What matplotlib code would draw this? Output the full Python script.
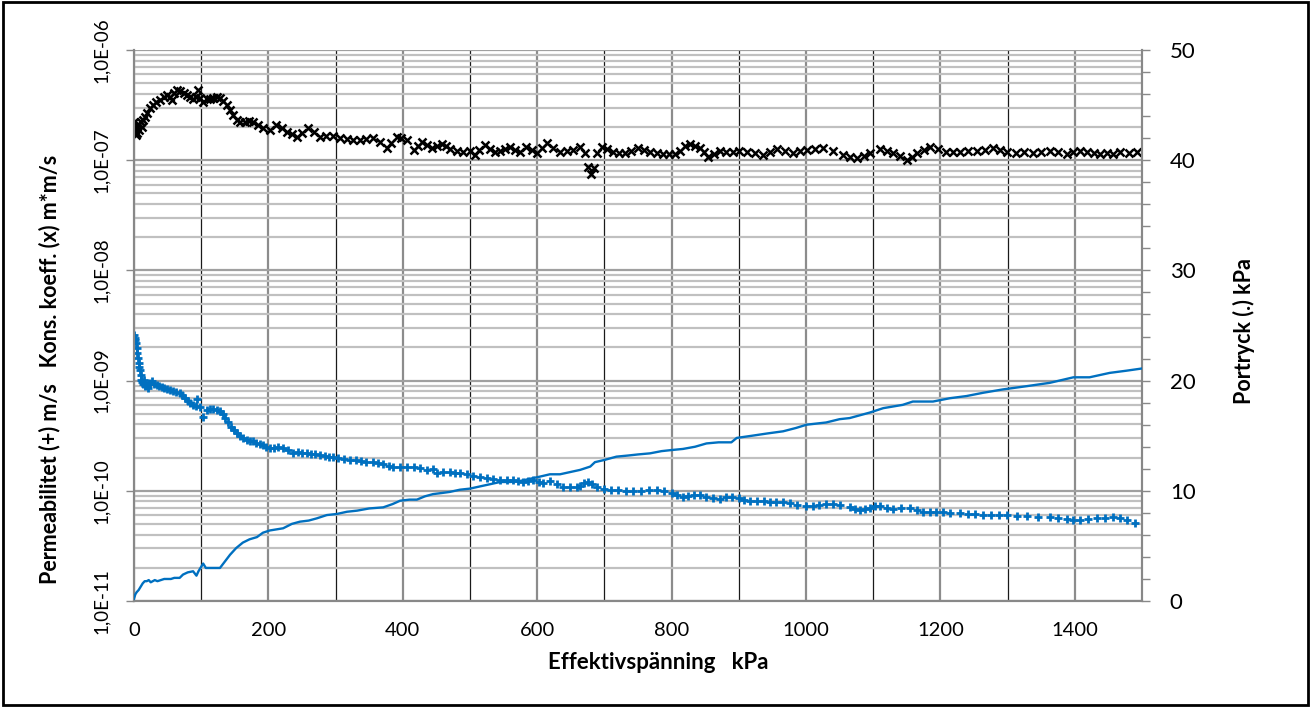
import numpy as np
import matplotlib.pyplot as plt
import matplotlib.transforms as mtransforms
from matplotlib.ticker import MultipleLocator, LogLocator, NullFormatter
from matplotlib.patches import Rectangle

plt.rcParams['font.family'] = ['Lato', 'DejaVu Sans']

# Kons. koeff. (x), enhet 1e-7 m*m/s
kons_x = [0, 1, 2, 3, 4, 5, 6, 8, 10, 12, 14, 17, 20, 24, 28, 33, 39, 44, 49, 53,
          56, 60, 64, 69, 74, 79, 84, 88, 92, 95, 99, 103, 108, 113, 118, 123, 128, 133, 138, 143,
          148, 153, 158, 165, 171, 177, 184, 192, 202, 212, 220, 227, 235, 242, 250, 259, 268, 277, 286, 296,
          306, 317, 326, 336, 346, 356, 366, 376, 383, 391, 398, 406, 416, 422, 428, 436, 443, 451, 458, 464,
          470, 480, 490, 500, 507, 514, 522, 530, 537, 545, 552, 560, 567, 574, 584, 592, 600, 607, 614, 624,
          634, 644, 654, 664, 671, 676, 680, 684, 689, 696, 704, 713, 722, 731, 740, 750, 759, 768, 778, 787,
          796, 805, 812, 820, 827, 835, 842, 848, 854, 863, 872, 881, 891, 901, 912, 924, 936, 947, 957, 969,
          981, 991, 1002, 1014, 1026, 1040, 1055, 1066, 1076, 1086, 1095, 1110, 1120, 1130, 1140, 1150, 1158, 1165, 1175, 1185,
          1197, 1209, 1219, 1229, 1241, 1254, 1266, 1279, 1289, 1299, 1312, 1325, 1338, 1350, 1363, 1375, 1388, 1398, 1408, 1418,
          1428, 1438, 1448, 1457, 1467, 1480, 1492]
kons_e7 = [2.22, 1.80, 1.96, 1.69, 2.05, 1.77, 2.13, 1.88, 2.22, 2.00, 2.32, 2.47, 2.68, 2.98, 3.17, 3.37, 3.52, 3.75, 3.91, 3.75,
           3.52, 4.07, 4.33, 4.25, 4.07, 3.91, 3.75, 3.59, 3.75, 4.33, 3.67, 3.37, 3.59, 3.59, 3.67, 3.75, 3.67, 3.44, 3.17, 2.86,
           2.57, 2.32, 2.22, 2.22, 2.27, 2.22, 2.09, 1.96, 1.88, 2.09, 1.96, 1.80, 1.73, 1.62, 1.77, 1.96, 1.80, 1.62, 1.66, 1.66,
           1.59, 1.56, 1.52, 1.52, 1.56, 1.59, 1.46, 1.29, 1.43, 1.62, 1.59, 1.52, 1.24, 1.35, 1.46, 1.37, 1.29, 1.35, 1.40, 1.35,
           1.26, 1.21, 1.19, 1.21, 1.11, 1.24, 1.37, 1.26, 1.19, 1.21, 1.26, 1.32, 1.24, 1.19, 1.32, 1.24, 1.16, 1.29, 1.43, 1.29,
           1.19, 1.21, 1.24, 1.32, 1.16, 0.87, 0.75, 0.85, 1.16, 1.32, 1.26, 1.19, 1.16, 1.16, 1.21, 1.29, 1.24, 1.19, 1.16, 1.14,
           1.14, 1.14, 1.21, 1.35, 1.40, 1.35, 1.29, 1.19, 1.07, 1.14, 1.21, 1.19, 1.19, 1.21, 1.19, 1.16, 1.11, 1.19, 1.26, 1.21,
           1.16, 1.21, 1.24, 1.26, 1.29, 1.21, 1.11, 1.07, 1.05, 1.09, 1.16, 1.26, 1.21, 1.16, 1.09, 1.00, 1.07, 1.16, 1.24, 1.32,
           1.26, 1.19, 1.19, 1.19, 1.21, 1.21, 1.24, 1.29, 1.24, 1.19, 1.16, 1.19, 1.16, 1.19, 1.21, 1.19, 1.14, 1.19, 1.21, 1.19,
           1.16, 1.14, 1.16, 1.14, 1.19, 1.16, 1.19]

# Permeabilitet (+), enhet 1e-10 m/s
perm_x = [0, 1, 2, 3, 4, 5, 6, 7, 8, 9, 10, 11, 12, 14, 15, 17, 19, 21, 22, 24,
          27, 30, 34, 38, 41, 45, 49, 53, 58, 63, 68, 72, 76, 80, 84, 88, 93, 94, 98, 103,
          108, 113, 118, 123, 128, 132, 135, 140, 145, 149, 153, 158, 162, 168, 173, 177, 182, 187, 192, 197,
          202, 208, 215, 222, 229, 237, 244, 250, 257, 264, 270, 277, 284, 290, 296, 304, 313, 321, 330, 338,
          346, 355, 363, 371, 379, 386, 396, 406, 416, 426, 436, 445, 451, 460, 470, 478, 485, 495, 505, 515,
          525, 535, 545, 555, 564, 572, 579, 587, 594, 602, 609, 619, 629, 639, 649, 659, 664, 670, 676, 682,
          689, 700, 710, 721, 732, 743, 754, 766, 778, 789, 800, 808, 817, 825, 834, 842, 851, 861, 872, 881,
          890, 900, 908, 917, 927, 937, 947, 956, 966, 976, 987, 1000, 1010, 1020, 1030, 1040, 1050, 1065, 1073, 1080,
          1088, 1095, 1103, 1110, 1120, 1130, 1142, 1155, 1165, 1174, 1184, 1194, 1204, 1214, 1229, 1241, 1252, 1264, 1276, 1288,
          1299, 1314, 1329, 1346, 1363, 1375, 1388, 1398, 1408, 1420, 1433, 1445, 1457, 1467, 1477, 1490]
perm_e10 = [25.9, 24.4, 23.4, 21.9, 19.8, 17.8, 16.0, 14.4, 13.3, 12.5, 11.2, 10.1, 9.7, 9.3, 10.1, 8.93, 9.1, 8.57, 9.5, 9.3,
            9.9, 9.3, 9.1, 8.93, 8.75, 8.57, 8.39, 8.22, 8.05, 7.87, 7.71, 7.40, 6.95, 6.53, 6.26, 6.00, 5.88, 6.81, 5.75, 4.67,
            5.41, 5.52, 5.52, 5.41, 5.30, 4.98, 4.58, 4.21, 3.79, 3.56, 3.35, 3.14, 3.01, 2.89, 2.83, 2.83, 2.72, 2.66, 2.61, 2.50,
            2.44, 2.44, 2.50, 2.44, 2.35, 2.20, 2.25, 2.20, 2.20, 2.16, 2.16, 2.11, 2.07, 2.03, 2.03, 1.99, 1.95, 1.90, 1.90, 1.86,
            1.82, 1.82, 1.79, 1.75, 1.68, 1.64, 1.64, 1.64, 1.64, 1.61, 1.55, 1.58, 1.45, 1.48, 1.48, 1.45, 1.45, 1.42, 1.36, 1.33,
            1.31, 1.28, 1.25, 1.25, 1.25, 1.23, 1.20, 1.23, 1.25, 1.20, 1.18, 1.23, 1.15, 1.08, 1.08, 1.08, 1.11, 1.18, 1.20, 1.15,
            1.08, 1.04, 1.02, 1.02, 0.995, 0.995, 0.995, 1.02, 1.02, 0.995, 0.955, 0.916, 0.879, 0.897, 0.916, 0.916, 0.879, 0.861, 0.843, 0.879,
            0.879, 0.861, 0.826, 0.807, 0.807, 0.807, 0.791, 0.791, 0.791, 0.775, 0.743, 0.728, 0.728, 0.743, 0.759, 0.759, 0.743, 0.713, 0.684, 0.670,
            0.684, 0.698, 0.728, 0.728, 0.698, 0.684, 0.698, 0.698, 0.670, 0.643, 0.643, 0.643, 0.643, 0.629, 0.629, 0.616, 0.616, 0.603, 0.603, 0.603,
            0.603, 0.591, 0.591, 0.578, 0.578, 0.566, 0.555, 0.543, 0.543, 0.555, 0.566, 0.566, 0.578, 0.566, 0.543, 0.511]

# Portryck (.) kPa
por_x = [0, 2, 4, 7, 10, 13, 16, 19, 22, 25, 28, 31, 35, 40, 45, 49, 55, 60, 68, 73,
         80, 88, 93, 96, 100, 103, 107, 113, 120, 128, 133, 143, 152, 162, 172, 183, 192, 202, 212, 222,
         235, 247, 260, 272, 287, 302, 317, 332, 350, 371, 385, 396, 410, 421, 433, 445, 458, 470, 485, 500,
         515, 530, 545, 560, 575, 590, 605, 619, 634, 649, 664, 679, 686, 700, 718, 735, 750, 768, 785, 800,
         817, 835, 852, 870, 889, 897, 920, 942, 966, 985, 1001, 1030, 1050, 1065, 1095, 1115, 1144, 1159, 1189, 1214,
         1239, 1264, 1293, 1329, 1363, 1398, 1422, 1452, 1477, 1500]
por_kpa = [0.2, 0.6, 0.8, 1.0, 1.3, 1.6, 1.8, 1.8, 1.9, 1.7, 1.8, 1.9, 1.8, 1.9, 2.0, 2.0, 2.0, 2.1, 2.1, 2.4,
           2.6, 2.7, 2.3, 2.7, 3.1, 3.4, 3.0, 3.0, 3.0, 3.0, 3.4, 4.2, 4.8, 5.3, 5.6, 5.8, 6.2, 6.4, 6.5, 6.6,
           7.0, 7.2, 7.3, 7.5, 7.8, 7.9, 8.1, 8.2, 8.4, 8.5, 8.8, 9.1, 9.2, 9.2, 9.5, 9.7, 9.8, 9.9, 10.1, 10.2,
           10.4, 10.6, 10.8, 10.8, 10.9, 11.1, 11.3, 11.5, 11.5, 11.7, 11.9, 12.2, 12.6, 12.8, 13.1, 13.2, 13.3, 13.4, 13.6, 13.7,
           13.8, 14.0, 14.3, 14.4, 14.4, 14.8, 15.0, 15.2, 15.4, 15.7, 16.0, 16.2, 16.5, 16.6, 17.1, 17.5, 17.8, 18.1, 18.1, 18.4,
           18.6, 18.9, 19.2, 19.5, 19.8, 20.3, 20.3, 20.7, 20.9, 21.1]

y_ticks = [1e-11, 1e-10, 1e-9, 1e-8, 1e-7, 1e-6]
y_labels = ['1,0E-11', '1,0E-10', '1,0E-09', '1,0E-08', '1,0E-07', '1,0E-06']
x_ticks = [0, 200, 400, 600, 800, 1000, 1200, 1400]

blue = '#0070C0'

fig = plt.figure(figsize=(13.12, 7.07), dpi=100)
ax = fig.add_axes([0.1021, 0.1499, 0.7683, 0.7794])
ax2 = ax.twinx()

# serier
ax.plot(kons_x, np.array(kons_e7) * 1e-7, ls='none', marker='x', ms=6, mew=1.8, color='black', zorder=4)
ax.plot(perm_x, np.array(perm_e10) * 1e-10, ls='none', marker='+', ms=6, mew=2.0, color=blue, zorder=4)
ax2.plot(por_x, por_kpa, color=blue, lw=1.7, zorder=4)

# vänster axel (log), etiketter roterade
ax.set_yscale('log')
ax.set_ylim(1e-11, 1e-6)
ax.set_xlim(0, 1500)
ax.set_yticks(y_ticks)
ax.yaxis.set_minor_locator(LogLocator(base=10, subs=np.arange(2, 10), numticks=20))
ax.yaxis.set_minor_formatter(NullFormatter())
ax.tick_params(axis='y', which='major', length=6, width=1, color='#888888', labelleft=False)
ax.tick_params(axis='y', which='minor', length=0)
trans = mtransforms.blended_transform_factory(ax.transAxes, ax.transData)
for v, lab in zip(y_ticks, y_labels):
    ax.text(-0.032, v, lab, transform=trans, rotation=90, ha='center', va='center',
            fontsize=13.5, clip_on=False)

ax.set_xticks(x_ticks)
ax.xaxis.set_minor_locator(MultipleLocator(100))
ax.tick_params(axis='x', which='both', length=0, labelsize=14.5, pad=15)

ax.grid(True, which='major', axis='y', color='#a0a0a0', lw=1.6)
ax.grid(True, which='minor', axis='y', color='#c0c0c0', lw=1.6)
ax.grid(True, which='major', axis='x', color='#8c8c8c', lw=1.6)
ax.grid(True, which='minor', axis='x', color='#1a1a1a', lw=0.9)
ax.set_axisbelow(True)

# höger axel
ax2.set_ylim(0, 50)
ax2.yaxis.set_major_locator(MultipleLocator(10))
ax2.yaxis.set_minor_locator(MultipleLocator(2))
ax2.tick_params(axis='y', which='major', length=6, width=1, color='#888888', labelsize=16, pad=14)
ax2.tick_params(axis='y', which='minor', length=6, width=1, color='#888888')

for a in (ax, ax2):
    for s in a.spines.values():
        s.set_color('#888888')
        s.set_linewidth(1.5)
    a.spines['top'].set_visible(False)

ax.set_xlabel('Effektivspänning   kPa', fontsize=16, fontweight='bold')
ax.xaxis.set_label_coords(0.52, -0.093)
ax.set_ylabel('Permeabilitet (+) m/s   Kons. koeff. (x) m*m/s', fontsize=15.5, fontweight='bold')
ax.yaxis.set_label_coords(-0.073, 0.42)
ax2.set_ylabel('Portryck (.) kPa', fontsize=15.5, fontweight='bold')
ax2.yaxis.set_label_coords(1.09, 0.49)

fig.patches.append(Rectangle((0.002, 0.003), 0.995, 0.994, transform=fig.transFigure,
                             fill=False, edgecolor='black', lw=2))

fig.savefig('out.png', dpi=100)
